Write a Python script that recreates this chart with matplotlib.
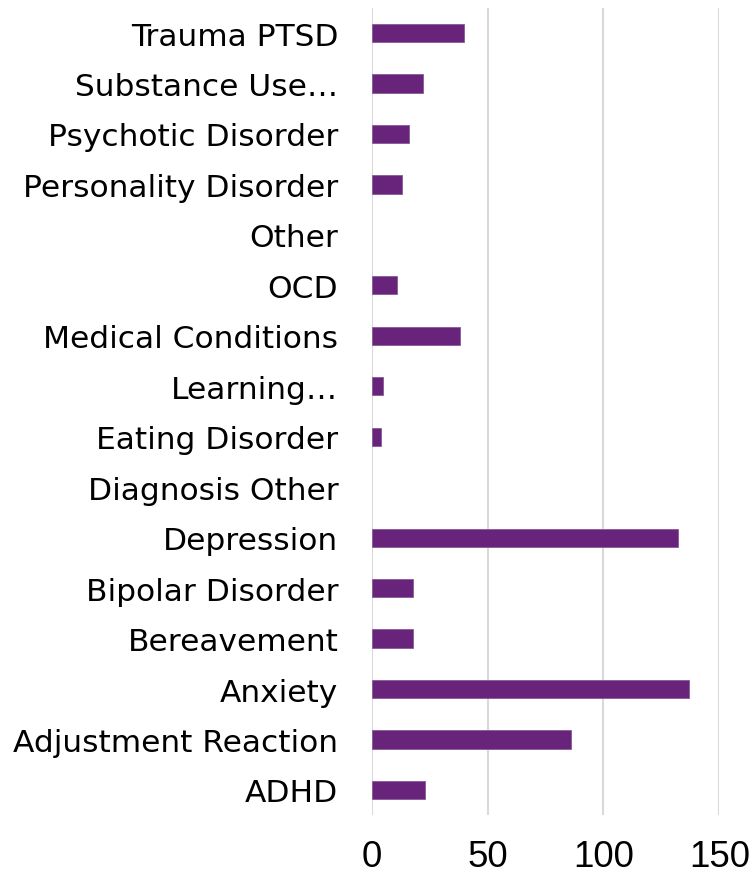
import matplotlib
matplotlib.use("Agg")
import matplotlib.pyplot as plt

categories = ["ADHD", "Adjustment Reaction", "Anxiety", "Bereavement", "Bipolar Disorder",
              "Depression", "Diagnosis Other", "Eating Disorder", "Learning…",
              "Medical Conditions", "OCD", "Other", "Personality Disorder",
              "Psychotic Disorder", "Substance Use…", "Trauma PTSD"]
values = [23, 86, 137, 18, 18, 132, 0, 4, 5, 38, 11, 0, 13, 16, 22, 40]
xticks = [0, 50, 100, 150]

plt.rcParams['font.family'] = ['DejaVu Sans']

fig = plt.figure(figsize=(7.55, 8.78), dpi=100)
ax = fig.add_axes([371.7/755, 1 - 816.2/878, (719.3 - 371.7)/755, (816.2 - 8.8)/878])

ypos = list(range(len(categories)))
lws = [0.6 if v > 0 else 0 for v in values]
ax.barh(ypos, values, height=0.36, color="#68237A", edgecolor="#8A5A98", linewidth=lws, zorder=3)

ax.set_xlim(0, 150)
ax.set_ylim(-0.5, len(categories) - 0.5)
ax.set_xticks(xticks)
ax.set_xticklabels([str(t) for t in xticks], family=['Liberation Sans', 'DejaVu Sans'])
ax.set_yticks(ypos)
ax.set_yticklabels(categories)

ax.tick_params(axis='y', length=0, pad=24, labelsize=22.5)
ax.tick_params(axis='x', length=0, pad=17, labelsize=26.5)

for s in ax.spines.values():
    s.set_visible(False)

ax.grid(axis='x', color="#D9D9D9", linewidth=1.5, zorder=0)
ax.set_axisbelow(True)

fig.savefig("out.png", dpi=100)
